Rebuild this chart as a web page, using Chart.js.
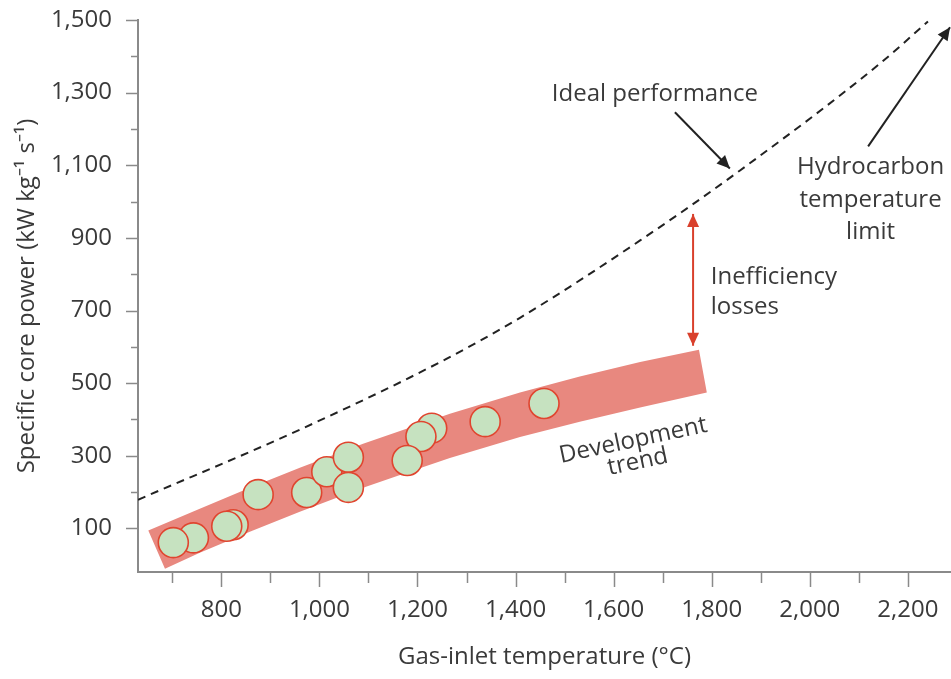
<!DOCTYPE html>
<html>
<head>
<meta charset="utf-8">
<script src="https://cdn.jsdelivr.net/npm/chart.js@4.4.1/dist/chart.umd.min.js"></script>
<style>
  html, body { margin: 0; padding: 0; background: #fff; }
</style>
</head>
<body>
<canvas id="myChart" width="951" height="679"></canvas>
<script>
// engine data points (gas-inlet temperature vs specific core power), back-to-front order
const engineTemps = [743, 702, 824, 811, 875, 974, 1015, 1059, 1059, 1229, 1207, 1179, 1338, 1458];
const enginePower = [74, 61, 110, 106, 193, 199, 256, 296, 213, 376, 353, 287, 394, 444];

// ideal performance curve
const idealTemps = [630, 960, 1252, 1409, 1654, 1857, 2143, 2241];
const idealPower = [179, 372, 562, 680, 893, 1085, 1380, 1496];

// development trend band outline (upper edge left to right, then lower edge back)
const trendTemps = [651, 756, 858, 960, 1089, 1185, 1266, 1409, 1531, 1654, 1774,
                    1790, 1654, 1531, 1409, 1266, 1185, 1089, 960, 858, 756, 685];
const trendPower = [94, 154, 212, 267, 333, 378, 416, 474, 518, 558, 592,
                    474, 433, 394, 352, 294, 257, 212, 146, 91, 33, -11];

const xTicks = [700, 800, 900, 1000, 1100, 1200, 1300, 1400, 1500, 1600, 1700, 1800, 1900, 2000, 2100, 2200];
const yTicks = [100, 200, 300, 400, 500, 600, 700, 800, 900, 1000, 1100, 1200, 1300, 1400, 1500];

// annotations in data units
const textNotes = [
  { lines: ['Ideal performance'], x: 1474, y: 1297, align: 'left', lh: 32 },
  { lines: ['Hydrocarbon', 'temperature', 'limit'], x: 2124, y: 1094, align: 'center', lh: 32.5 },
  { lines: ['Inefficiency', 'losses'], x: 1798, y: 792, align: 'left', lh: 30 },
  { lines: ['Development', 'trend'], x: 1640, y: 342, align: 'center', lh: 22, angle: -12 }
];
const arrowNotes = [
  { from: [1725, 1246], to: [1837, 1091], color: '#222', heads: 1 },
  { from: [2119, 1152], to: [2286, 1480], color: '#222', heads: 1 },
  { from: [1762, 603], to: [1762, 966], color: '#d9402c', heads: 2 }
];

const textColor = '#3a3a3a';
const axisColor = '#8a8a8a';
const fontFamily = '"Open Sans", sans-serif';

const toPoints = (xs, ys) => xs.map((x, i) => ({ x: x, y: ys[i] }));
const fmt = (v) => v.toLocaleString('en-US');

const drawHead = (ctx, x0, y0, x1, y1) => {
  const a = Math.atan2(y1 - y0, x1 - x0);
  const len = 13, w = 6;
  ctx.beginPath();
  ctx.moveTo(x1, y1);
  ctx.lineTo(x1 - len * Math.cos(a) + w * Math.sin(a), y1 - len * Math.sin(a) - w * Math.cos(a));
  ctx.lineTo(x1 - len * Math.cos(a) - w * Math.sin(a), y1 - len * Math.sin(a) + w * Math.cos(a));
  ctx.closePath();
  ctx.fill();
};

const axisTicks = {
  id: 'axisTicks',
  afterDraw(chart) {
    const ctx = chart.ctx;
    const xs = chart.scales.x, ys = chart.scales.y;
    const area = chart.chartArea;
    ctx.save();
    ctx.strokeStyle = axisColor;
    ctx.lineWidth = 1.5;
    xTicks.forEach((v) => {
      const px = Math.round(xs.getPixelForValue(v)) + 0.5;
      const len = v % 200 === 0 ? 15 : 11;
      ctx.beginPath();
      ctx.moveTo(px, area.bottom);
      ctx.lineTo(px, area.bottom + len);
      ctx.stroke();
    });
    yTicks.forEach((v) => {
      const py = Math.round(ys.getPixelForValue(v)) + 0.5;
      const len = v % 200 === 100 ? 12 : 7;
      ctx.beginPath();
      ctx.moveTo(area.left, py);
      ctx.lineTo(area.left - len, py);
      ctx.stroke();
    });
    ctx.restore();
  }
};

const notes = {
  id: 'notes',
  afterDatasetsDraw(chart) {
    const ctx = chart.ctx;
    const xs = chart.scales.x, ys = chart.scales.y;
    ctx.save();
    arrowNotes.forEach((a) => {
      const x0 = xs.getPixelForValue(a.from[0]), y0 = ys.getPixelForValue(a.from[1]);
      const x1 = xs.getPixelForValue(a.to[0]), y1 = ys.getPixelForValue(a.to[1]);
      ctx.strokeStyle = a.color;
      ctx.fillStyle = a.color;
      ctx.lineWidth = 2;
      ctx.beginPath();
      ctx.moveTo(x0, y0);
      ctx.lineTo(x1, y1);
      ctx.stroke();
      drawHead(ctx, x0, y0, x1, y1);
      if (a.heads === 2) drawHead(ctx, x1, y1, x0, y0);
    });
    ctx.fillStyle = textColor;
    ctx.font = '24px ' + fontFamily;
    ctx.textBaseline = 'middle';
    textNotes.forEach((t) => {
      ctx.save();
      ctx.translate(xs.getPixelForValue(t.x), ys.getPixelForValue(t.y));
      if (t.angle) ctx.rotate(t.angle * Math.PI / 180);
      ctx.textAlign = t.align;
      t.lines.forEach((line, i) => ctx.fillText(line, 0, i * t.lh));
      ctx.restore();
    });
    ctx.restore();
  }
};

const config = {
  type: 'scatter',
  data: {
    datasets: [
      {
        label: 'Engines',
        data: toPoints(engineTemps, enginePower),
        order: 1,
        pointRadius: 15,
        pointHoverRadius: 15,
        backgroundColor: '#c6e2c0',
        borderColor: '#e0452f',
        borderWidth: 1.6
      },
      {
        type: 'line',
        label: 'Ideal performance',
        data: toPoints(idealTemps, idealPower),
        order: 2,
        borderColor: '#222',
        borderWidth: 2,
        borderDash: [8, 6],
        pointRadius: 0,
        cubicInterpolationMode: 'monotone',
        fill: false
      },
      {
        type: 'line',
        label: 'Development trend',
        data: toPoints(trendTemps, trendPower),
        order: 3,
        borderWidth: 0,
        borderColor: 'rgba(0,0,0,0)',
        backgroundColor: '#e8887f',
        pointRadius: 0,
        tension: 0,
        fill: 'shape'
      }
    ]
  },
  options: {
    responsive: false,
    animation: false,
    devicePixelRatio: 1,
    layout: { autoPadding: false, padding: { top: 20, right: 0, bottom: 0, left: 0 } },
    plugins: {
      legend: { display: false },
      tooltip: { enabled: false }
    },
    scales: {
      x: {
        type: 'linear',
        min: 630,
        max: 2288,
        afterFit: (scale) => {
          scale.height = 107;
          scale.paddingLeft = 0;
          scale.paddingRight = 0;
        },
        afterBuildTicks: (scale) => { scale.ticks = xTicks.map((v) => ({ value: v })); },
        grid: { display: false, drawTicks: false },
        border: { display: true, color: axisColor, width: 2 },
        ticks: {
          padding: 24,
          maxRotation: 0,
          autoSkip: false,
          color: textColor,
          font: { family: fontFamily, size: 24 },
          callback: (v) => (v % 200 === 0 ? fmt(v) : '')
        },
        title: {
          display: true,
          text: 'Gas-inlet temperature (°C)',
          color: textColor,
          font: { family: fontFamily, size: 24 },
          padding: { top: 0, bottom: 7 }
        }
      },
      y: {
        type: 'linear',
        min: -20,
        max: 1500,
        afterFit: (scale) => {
          scale.width = 138;
          scale.paddingTop = 0;
          scale.paddingBottom = 0;
        },
        afterBuildTicks: (scale) => { scale.ticks = yTicks.map((v) => ({ value: v })); },
        grid: { display: false, drawTicks: false },
        border: { display: true, color: axisColor, width: 2 },
        ticks: {
          padding: 26,
          autoSkip: false,
          color: textColor,
          font: { family: fontFamily, size: 24 },
          callback: (v) => (v % 200 === 100 ? fmt(v) : '')
        },
        title: {
          display: true,
          text: 'Specific core power (kW kg⁻¹ s⁻¹)',
          color: textColor,
          font: { family: fontFamily, size: 24 },
          padding: { top: 13, bottom: 0 }
        }
      }
    }
  },
  plugins: [axisTicks, notes]
};

window.chart = new Chart(document.getElementById('myChart'), config);
</script>
</body>
</html>
